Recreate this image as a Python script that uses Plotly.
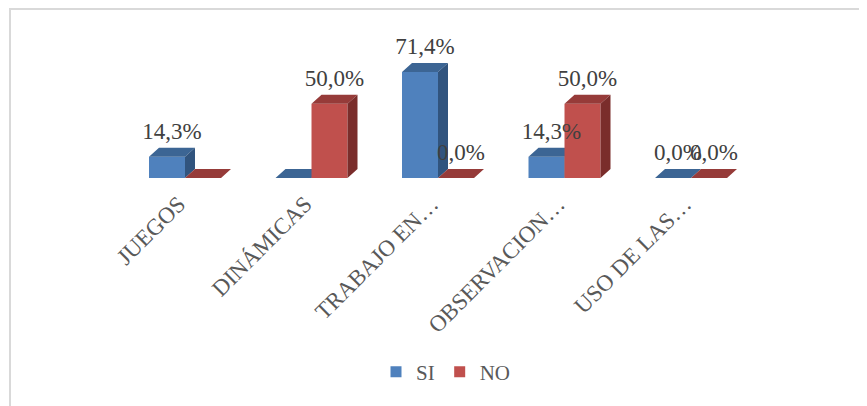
import plotly.graph_objects as go

# ---- data ----
categories = ["JUEGOS", "DINÁMICAS", "TRABAJO EN…", "OBSERVACION…", "USO DE LAS…"]
si_values = [14.3, 0.0, 71.4, 14.3, 0.0]
no_values = [0.0, 50.0, 0.0, 50.0, 0.0]
si_labels = ["14,3%", "", "71,4%", "14,3%", "0,0%"]
no_labels = ["", "50,0%", "0,0%", "50,0%", "0,0%"]
series_names = ["SI", "NO"]

# ---- style ----
BAR_W = 0.2846      # width of one column (category units)
DX = 0.079          # 3D depth offset, x (category units)
DY = 6.06           # 3D depth offset, y (value units)
LABEL_LIFT = 2.0    # extra gap above column tops (value units)
TICK_SHIFT = -0.05  # label anchor shift (category units)
FONT = "Liberation Serif"
colors = {
    "SI": {"front": "#4F81BD", "top": "#3C6594", "side": "#31547E"},
    "NO": {"front": "#C0504D", "top": "#963B39", "side": "#7A2D2B"},
}

fig = go.Figure()


def poly_trace(polys, color):
    xs, ys = [], []
    for p in polys:
        for (x, y) in p:
            xs.append(x)
            ys.append(y)
        xs.append(p[0][0])
        ys.append(p[0][1])
        xs.append(None)
        ys.append(None)
    return go.Scatter(x=xs, y=ys, mode="none", fill="toself", fillcolor=color,
                      showlegend=False, hoverinfo="skip")


for name, values, offset in (("SI", si_values, -BAR_W), ("NO", no_values, 0.0)):
    fronts, tops, sides = [], [], []
    for i, v in enumerate(values):
        xl = i + offset
        xr = xl + BAR_W
        fronts.append([(xl, 0), (xr, 0), (xr, v), (xl, v)])
        tops.append([(xl, v), (xr, v), (xr + DX, v + DY), (xl + DX, v + DY)])
        sides.append([(xr, 0), (xr + DX, DY), (xr + DX, v + DY), (xr, v)])
    c = colors[name]
    fig.add_trace(poly_trace(fronts, c["front"]))
    fig.add_trace(poly_trace(tops, c["top"]))
    fig.add_trace(poly_trace(sides, c["side"]))

# data labels
for values, labels, offset in ((si_values, si_labels, -BAR_W / 2), (no_values, no_labels, BAR_W / 2)):
    fig.add_trace(go.Scatter(
        x=[i + offset + DX / 2 for i in range(len(values))],
        y=[v + DY + LABEL_LIFT for v in values],
        mode="text", text=labels, textposition="top center",
        textfont=dict(family=FONT, size=23, color="#404040"),
        showlegend=False, hoverinfo="skip", cliponaxis=False))

# legend entries
for name in series_names:
    fig.add_trace(go.Scatter(
        x=[None], y=[None], mode="markers", name=name,
        marker=dict(symbol="square", size=11, color=colors[name]["front"])))

# page body has an 8px margin: figure is laid out in page pixels minus 8
OFF = 8
W, H = 867 - OFF, 406 - OFF
L, R, T = 58 - OFF, 50, 20 - OFF
B = H - (178 - OFF)


def px_x(p):
    return (p - L) / (W - L - R)


def px_y(p):
    return (H - B - p) / (H - T - B)


fig.update_layout(
    width=W, height=H,
    margin=dict(l=L, r=R, t=T, b=B, autoexpand=False),
    paper_bgcolor="white", plot_bgcolor="white",
    font=dict(family=FONT, color="#595959"),
    xaxis=dict(range=[-1.004, 4.996], tickmode="array",
               tickvals=[i + TICK_SHIFT for i in range(len(categories))],
               ticktext=categories,
               tickangle=-45, showgrid=False, zeroline=False, showline=False,
               ticks="", ticklabelstandoff=7, automargin=False,
               tickfont=dict(family=FONT, size=23, color="#595959"),
               fixedrange=True),
    yaxis=dict(range=[0, 106.4], visible=False, fixedrange=True, automargin=False),
    showlegend=True,
    legend=dict(orientation="h", xref="container", yref="container",
                x=(446 - OFF) / W, xanchor="center",
                y=(H - (372 - OFF)) / H, yanchor="middle",
                font=dict(family=FONT, size=21, color="#595959"),
                itemwidth=30, bgcolor="rgba(0,0,0,0)"),
    shapes=[
        dict(type="line", xref="paper", yref="paper",
             x0=px_x(2), x1=px_x(2), y0=px_y(0), y1=px_y(420),
             line=dict(color="#D9D9D9", width=2), layer="below"),
        dict(type="line", xref="paper", yref="paper",
             x0=px_x(1), x1=px_x(880), y0=px_y(1), y1=px_y(1),
             line=dict(color="#D9D9D9", width=2), layer="below"),
    ],
)

fig.write_html("out.html")
